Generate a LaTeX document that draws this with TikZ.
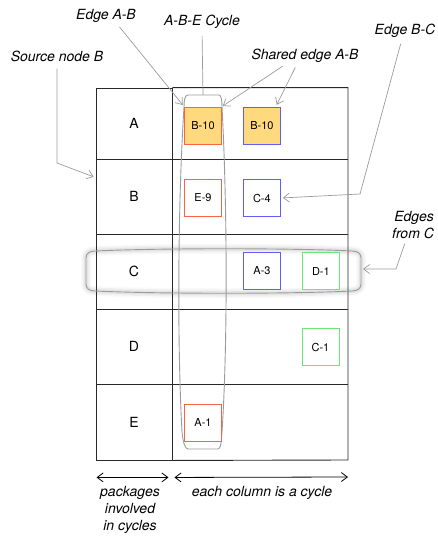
\documentclass[tikz,border=0pt]{standalone}
\usepackage{fontspec}
\setmainfont{TeX Gyre Heros}
\usetikzlibrary{positioning,arrows.meta}

\definecolor{edgeyellow}{RGB}{255,217,125}
\definecolor{cycred}{RGB}{248,100,70}
\definecolor{cycblue}{RGB}{95,95,245}
\definecolor{cycgreen}{RGB}{105,232,115}
\definecolor{notegray}{RGB}{155,155,155}
\definecolor{gridgray}{RGB}{40,40,40}

\begin{document}
\begin{tikzpicture}[
    x=1pt, y=-1pt,
    node distance=21pt, % gap between boxes in a row
    cell/.style={rectangle, draw=gridgray, line width=0.9pt, minimum width=76pt, font=\fontsize{14}{16}\selectfont},
    edgebox/.style={rectangle, draw, line width=0.9pt, minimum size=37pt, inner sep=0pt, font=\fontsize{11}{13}\selectfont},
    note/.style={font=\fontsize{14}{17}\selectfont\itshape, inner sep=1pt},
    pointer/.style={-{Straight Barb[length=6pt,width=9pt]}, draw=notegray, line width=0.7pt},
    capsule/.style={draw=notegray, line width=0.9pt},
    span/.style={{Straight Barb[length=6pt,width=9pt]}-{Straight Barb[length=6pt,width=9pt]}, line width=0.8pt}
]
\useasboundingbox (0,0) rectangle (437,536);

% soft shadow of the row C capsule
\foreach \w/\o in {10/0.025,7/0.035,4/0.05}
  \draw[line width=\w pt, draw=black, opacity=\o]
    (95,251) .. controls (160,248) and (290,248) .. (352,251)
    .. controls (358,251) and (361,254) .. (361,258) -- (361,284)
    .. controls (361,288) and (358,291) .. (352,291)
    .. controls (290,294) and (160,294) .. (95,291)
    .. controls (89,291) and (86,288) .. (86,284) -- (86,258)
    .. controls (86,254) and (89,251) .. (95,251) -- cycle;

% package rows
\node[cell, minimum height=71pt] (rowA) at (134,123.5) {A};
\node[cell, minimum height=75pt] (rowB) at (134,196.5) {B};
\node[cell, minimum height=75pt] (rowC) at (134,271.5) {C};
\node[cell, minimum height=75pt] (rowD) at (134,346.5) {D};
\node[cell, minimum height=76pt] (rowE) at (134,422) {E};

\draw[draw=gridgray, line width=0.9pt] (rowA.north east) -| (348,460) -- (rowE.south east);
\foreach \r in {A,B,C,D}
  \draw[draw=gridgray, line width=0.9pt] (row\r.south east) -- +(176,0);

% cycle columns
\draw[capsule]
  (188,95) -- (219,95) .. controls (221,95) and (222,100) .. (222,107)
  .. controls (227,200) and (228,340) .. (222,432)
  .. controls (221,442) and (221,449) .. (218,449) -- (188,449)
  .. controls (185,449) and (183,442) .. (182,432)
  .. controls (177,340) and (178,200) .. (184,107)
  .. controls (184,100) and (185,95) .. (188,95) -- cycle;
\coordinate (capT) at (203,95);

\draw[capsule]
  (95,251) .. controls (160,248) and (290,248) .. (352,251)
  .. controls (358,251) and (361,254) .. (361,258) -- (361,284)
  .. controls (361,288) and (358,291) .. (352,291)
  .. controls (290,294) and (160,294) .. (95,291)
  .. controls (89,291) and (86,288) .. (86,284) -- (86,258)
  .. controls (86,254) and (89,251) .. (95,251) -- cycle;
\coordinate (capR) at (361,269);

% edges
\node[edgebox, draw=cycred, fill=edgeyellow] (a1) at (203,125.5) {B-10};
\node[edgebox, draw=cycblue, fill=edgeyellow, right=of a1] (a2) {B-10};
\node[edgebox, draw=cycred, fill=white] (b1) at (203,198) {E-9};
\node[edgebox, draw=cycblue, fill=white, right=of b1] (b2) {C-4};
\node[edgebox, draw=cycblue, fill=white] (c2) at (262,271) {A-3};
\node[edgebox, draw=cycgreen, fill=white, right=of c2] (c3) {D-1};
\node[edgebox, draw=cycgreen, fill=white] (d3) at (320.5,347) {C-1};
\node[edgebox, draw=cycred, fill=white] (e1) at (203,422.5) {A-1};

% notes
\node[note] (eab) at (106,16) {Edge A-B};
\node[note] (cyc) at (202,22) {A-B-E Cycle};
\node[note] (src) at (57,56) {Source node B};
\node[note] (shared) at (305,56) {Shared edge A-B};
\node[note] (ebc) at (405,31) {Edge B-C};
\node[note, align=right] (efc) at (413,225) {Edges\\from C};

\draw[pointer, shorten <=4pt, shorten >=2pt] ([xshift=11pt]eab.south) -- (a1.north west);
\draw[draw=notegray, line width=0.7pt, shorten <=6pt] (cyc.south) -- (capT);
\coordinate (srcbend) at (57,163);
\draw[pointer, shorten <=6pt, shorten >=2pt] (src.south) -- (srcbend) -- ([yshift=-19pt]rowB.north west);
\draw[pointer, shorten <=4pt, shorten >=1pt] ([xshift=-19pt]shared.south) -- (a1.north east);
\draw[pointer, shorten <=4pt, shorten >=2pt] ([xshift=-8pt]shared.south) -- ([xshift=-5pt]a2.north east);
\coordinate (bcbend) at (360,194);
\draw[pointer, shorten <=5pt, shorten >=2pt] ([xshift=-3pt]ebc.south) -- (bcbend) -- (b2.east);
\coordinate (fcbend) at (396,269);
\draw[pointer, shorten <=4pt, shorten >=2pt] ([xshift=-7pt]efc.south) -- (fcbend) -- (capR);

% spans
\draw[span, shorten <=1pt, shorten >=4pt] ([yshift=-17pt]rowE.south west) -- ([yshift=-17pt]rowE.south east);
\coordinate (spanR) at (348,477);
\draw[span, shorten <=2pt] ([yshift=-17pt]rowE.south east) -- (spanR);
\node[note, align=center] (pkg) at (130,510) {packages\\involved\\in cycles};
\node[note] (eachcol) at (262,493) {each column is a cycle};

\end{tikzpicture}
\end{document}
